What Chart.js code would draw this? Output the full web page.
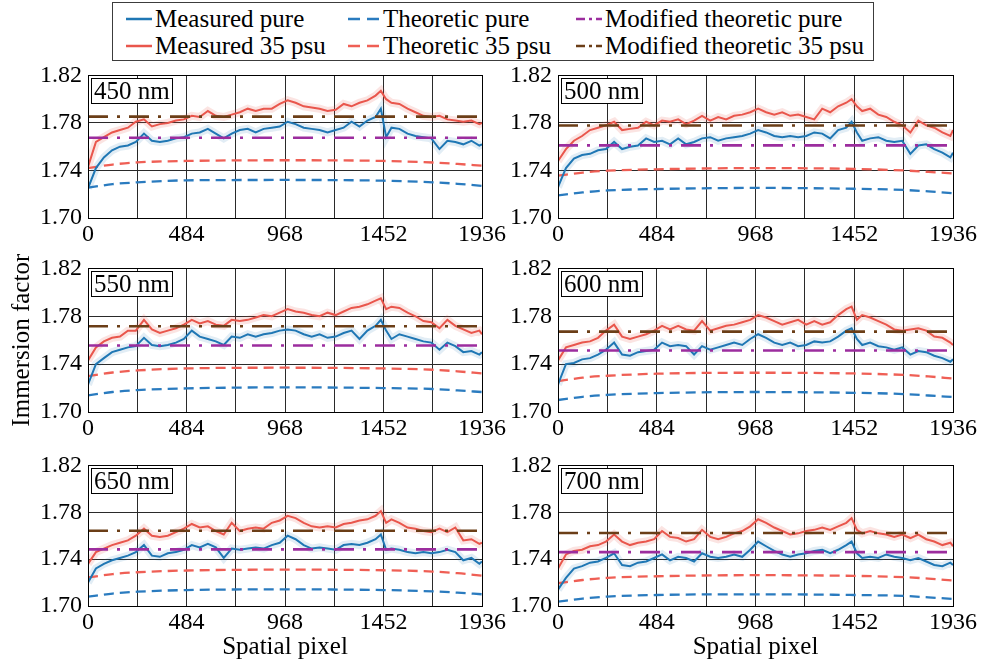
<!DOCTYPE html>
<html>
<head>
<meta charset="utf-8">
<script src="https://cdn.jsdelivr.net/npm/chart.js"></script>
<style>
body { margin:0; width:981px; height:661px; overflow:hidden; background:#fff;
       font-family:'Liberation Serif','Times New Roman',serif; }
canvas { position:absolute; }
#legend { position:absolute; left:112px; top:2px; width:760px; height:57px; border:1px solid #3c3c3c; background:#fff; }
.item { position:absolute; height:28px; display:flex; align-items:center; font-size:25px; white-space:nowrap; }
.item svg { margin-right:3px; }
.tag { position:absolute; font-size:25px; line-height:24px; padding:0 2px; border:1px solid #000; background:#fff; z-index:5; }
</style>
</head>
<body>
<div id="legend"></div>
<script>
// pixel positions where the measured curves were read
const xPix = [0,39,78,118,157,196,235,275,314,353,392,432,471,510,549,589,628,667,706,746,
  785,824,863,903,942,981,1020,1060,1099,1138,1177,1217,1256,1295,1334,1373,1413,1439,1465,1491,
  1530,1570,1609,1648,1687,1727,1766,1805,1844,1884,1923,1936];
// x positions of theoretic curves
const theoX = [0,121,242,484,968,1452,1694,1815,1936];

const wavelengths = ['450 nm','500 nm','550 nm','600 nm','650 nm','700 nm'];

// measured, pure water
const measPure450 = [1.725,1.742,1.751,1.757,1.760,1.761,1.764,1.771,1.765,1.764,1.765,1.767,1.768,1.771,1.772,1.775,1.771,1.767,1.771,1.774,
  1.775,1.772,1.775,1.776,1.777,1.781,1.779,1.776,1.775,1.774,1.772,1.774,1.776,1.781,1.777,1.782,1.785,1.792,1.768,1.776,
  1.775,1.771,1.769,1.768,1.767,1.758,1.765,1.764,1.762,1.765,1.761,1.762];
const measPure500 = [1.726,1.742,1.750,1.753,1.754,1.757,1.758,1.764,1.758,1.760,1.761,1.767,1.764,1.765,1.762,1.767,1.762,1.764,1.767,1.768,
  1.765,1.767,1.768,1.769,1.771,1.774,1.772,1.769,1.768,1.769,1.768,1.769,1.772,1.771,1.767,1.774,1.776,1.781,1.772,1.765,
  1.767,1.768,1.765,1.764,1.765,1.754,1.761,1.762,1.758,1.755,1.751,1.755];
const measPure550 = [1.723,1.740,1.745,1.750,1.752,1.754,1.755,1.762,1.756,1.755,1.756,1.758,1.761,1.768,1.763,1.761,1.759,1.756,1.763,1.762,
  1.765,1.763,1.765,1.766,1.768,1.769,1.768,1.765,1.763,1.765,1.762,1.763,1.766,1.768,1.761,1.768,1.772,1.777,1.768,1.761,
  1.765,1.763,1.761,1.759,1.758,1.752,1.758,1.755,1.750,1.751,1.748,1.750];
const measPure600 = [1.723,1.740,1.741,1.744,1.745,1.748,1.752,1.758,1.748,1.747,1.750,1.751,1.752,1.758,1.755,1.756,1.755,1.748,1.755,1.752,
  1.754,1.756,1.758,1.756,1.761,1.765,1.762,1.758,1.756,1.758,1.755,1.756,1.759,1.758,1.759,1.763,1.768,1.770,1.761,1.756,
  1.758,1.755,1.754,1.752,1.754,1.748,1.751,1.750,1.747,1.745,1.742,1.744];
const measPure650 = [1.720,1.732,1.736,1.739,1.741,1.743,1.746,1.752,1.743,1.742,1.745,1.746,1.748,1.752,1.750,1.753,1.750,1.741,1.749,1.748,
  1.749,1.750,1.749,1.752,1.754,1.760,1.757,1.752,1.749,1.750,1.749,1.748,1.752,1.753,1.752,1.754,1.757,1.761,1.748,1.749,
  1.748,1.746,1.745,1.746,1.745,1.746,1.748,1.746,1.739,1.741,1.736,1.738];
const measPure700 = [1.714,1.724,1.732,1.734,1.737,1.738,1.741,1.745,1.735,1.734,1.737,1.738,1.741,1.744,1.739,1.742,1.741,1.738,1.745,1.742,
  1.741,1.742,1.744,1.742,1.748,1.755,1.751,1.747,1.744,1.742,1.744,1.745,1.747,1.748,1.745,1.748,1.752,1.755,1.745,1.741,
  1.742,1.741,1.744,1.742,1.741,1.739,1.741,1.738,1.735,1.734,1.737,1.735];

// measured, 35 psu
const measSalt450 = [1.743,1.764,1.768,1.772,1.774,1.776,1.781,1.783,1.777,1.779,1.780,1.782,1.783,1.786,1.785,1.790,1.786,1.785,1.787,1.789,
  1.792,1.790,1.792,1.792,1.796,1.799,1.797,1.794,1.793,1.792,1.790,1.791,1.796,1.794,1.797,1.799,1.803,1.807,1.800,1.797,
  1.796,1.792,1.789,1.786,1.785,1.786,1.783,1.782,1.781,1.782,1.779,1.780];
const measSalt500 = [1.748,1.758,1.765,1.769,1.774,1.776,1.778,1.781,1.774,1.775,1.776,1.781,1.778,1.782,1.781,1.783,1.779,1.782,1.786,1.782,
  1.785,1.783,1.786,1.787,1.789,1.792,1.789,1.787,1.789,1.786,1.787,1.785,1.783,1.792,1.789,1.794,1.797,1.800,1.794,1.790,
  1.792,1.787,1.785,1.781,1.778,1.772,1.782,1.778,1.776,1.772,1.769,1.774];
const measSalt550 = [1.743,1.754,1.759,1.762,1.763,1.768,1.768,1.777,1.769,1.766,1.768,1.770,1.773,1.777,1.774,1.776,1.773,1.772,1.777,1.776,
  1.777,1.779,1.781,1.780,1.783,1.786,1.784,1.783,1.781,1.780,1.783,1.781,1.784,1.787,1.788,1.790,1.793,1.795,1.786,1.788,
  1.787,1.783,1.780,1.776,1.775,1.770,1.777,1.772,1.769,1.766,1.768,1.765];
const measSalt600 = [1.743,1.754,1.756,1.758,1.759,1.762,1.768,1.773,1.763,1.761,1.763,1.765,1.768,1.772,1.769,1.772,1.769,1.768,1.776,1.768,
  1.770,1.772,1.773,1.775,1.777,1.781,1.779,1.776,1.773,1.775,1.777,1.773,1.776,1.773,1.775,1.781,1.786,1.788,1.777,1.781,
  1.779,1.776,1.773,1.769,1.768,1.769,1.770,1.768,1.763,1.762,1.758,1.756];
const measSalt650 = [1.736,1.746,1.749,1.752,1.754,1.756,1.760,1.766,1.760,1.759,1.760,1.763,1.766,1.770,1.767,1.768,1.764,1.761,1.771,1.764,
  1.766,1.767,1.766,1.771,1.773,1.777,1.775,1.771,1.768,1.767,1.768,1.767,1.770,1.771,1.773,1.774,1.777,1.781,1.771,1.774,
  1.771,1.767,1.766,1.764,1.763,1.766,1.763,1.767,1.756,1.757,1.753,1.754];
const measSalt700 = [1.732,1.744,1.747,1.748,1.751,1.752,1.755,1.761,1.755,1.752,1.754,1.755,1.757,1.764,1.759,1.758,1.755,1.757,1.765,1.759,
  1.757,1.759,1.762,1.764,1.768,1.774,1.771,1.767,1.764,1.761,1.762,1.764,1.765,1.767,1.765,1.768,1.771,1.775,1.765,1.762,
  1.764,1.762,1.761,1.759,1.761,1.758,1.761,1.757,1.755,1.752,1.754,1.751];

// theoretic curves
const theoPure450 = [1.7255,1.7285,1.7300,1.7317,1.7320,1.7314,1.7300,1.7288,1.7270];
const theoPure500 = [1.7190,1.7215,1.7232,1.7244,1.7253,1.7246,1.7236,1.7224,1.7208];
const theoPure550 = [1.7139,1.7167,1.7183,1.7197,1.7206,1.7200,1.7192,1.7180,1.7167];
const theoPure600 = [1.7100,1.7127,1.7143,1.7158,1.7167,1.7160,1.7150,1.7138,1.7125];
const theoPure650 = [1.7080,1.7106,1.7122,1.7136,1.7142,1.7136,1.7125,1.7114,1.7100];
const theoPure700 = [1.7037,1.7063,1.7080,1.7094,1.7100,1.7094,1.7086,1.7074,1.7060];
const theoSalt450 = [1.7420,1.7450,1.7468,1.7480,1.7486,1.7480,1.7467,1.7455,1.7440];
const theoSalt500 = [1.7356,1.7382,1.7398,1.7410,1.7420,1.7413,1.7400,1.7388,1.7375];
const theoSalt550 = [1.7300,1.7330,1.7347,1.7364,1.7370,1.7364,1.7353,1.7340,1.7322];
const theoSalt600 = [1.7258,1.7287,1.7303,1.7320,1.7328,1.7322,1.7310,1.7297,1.7280];
const theoSalt650 = [1.7244,1.7272,1.7288,1.7303,1.7310,1.7305,1.7294,1.7280,1.7258];
const theoSalt700 = [1.7194,1.7222,1.7240,1.7254,1.7263,1.7257,1.7246,1.7234,1.7217];

// modified theoretic (constant across the detector)
const modPure = [1.7675,1.7611,1.7556,1.7514,1.7483,1.7460];
const modSalt = [1.7853,1.7778,1.7717,1.7672,1.7642,1.7623];

const yTicks = [1.70,1.74,1.78,1.82];
const xLabels = [0,484,968,1452,1936];

const measPure = [measPure450,measPure500,measPure550,measPure600,measPure650,measPure700];
const measSalt = [measSalt450,measSalt500,measSalt550,measSalt600,measSalt650,measSalt700];
const theoPure = [theoPure450,theoPure500,theoPure550,theoPure600,theoPure650,theoPure700];
const theoSalt = [theoSalt450,theoSalt500,theoSalt550,theoSalt600,theoSalt650,theoSalt700];

const col = {
  pure:'#1f77b4', salt:'#e9564c',
  tPure:'#2a7bbf', tSalt:'#ef5f55',
  mPure:'#9c2d9e', mSalt:'#6b3e17'
};

const serif = "'Liberation Serif','Times New Roman',serif";
Chart.defaults.font.family = serif;
Chart.defaults.font.size = 24;
Chart.defaults.color = '#000';

// legend
const legendItems = [
  ['Measured pure', col.pure, 'solid', 13, 2],
  ['Theoretic pure', col.tPure, 'dash', 235, 2],
  ['Modified theoretic pure', col.mPure, 'dashdot', 463, 2],
  ['Measured 35 psu', col.salt, 'solid', 13, 29],
  ['Theoretic 35 psu', col.tSalt, 'dash', 235, 29],
  ['Modified theoretic 35 psu', col.mSalt, 'dashdot', 463, 29]
];
const legend = document.getElementById('legend');
legendItems.forEach(([name, c, style, left, top]) => {
  const w = style === 'dash' ? 32 : 26;
  const dash = style === 'dash' ? '12 7' : style === 'dashdot' ? '9 4 3 4 9' : '';
  const d = document.createElement('div');
  d.className = 'item';
  d.style.left = left + 'px';
  d.style.top = top + 'px';
  d.innerHTML = `<svg width="${w}" height="10"><line x1="0" y1="5" x2="${w}" y2="5" stroke="${c}" stroke-width="2.5" stroke-dasharray="${dash}"/></svg>${name}`;
  legend.appendChild(d);
});

const boxPlugin = {
  id: 'box',
  afterDraw(chart) {
    const a = chart.chartArea, ctx = chart.ctx;
    ctx.save();
    ctx.strokeStyle = '#000';
    ctx.lineWidth = 1;
    ctx.strokeRect(Math.round(a.left) + 0.5, Math.round(a.top) + 0.5,
                   Math.round(a.right - a.left), Math.round(a.bottom - a.top));
    ctx.restore();
  }
};

const colLeft = [0, 470];
const colWidth = [520, 521];
const rowTop = [55, 248, 445];
const rowHeight = [203, 204, 217];
const xAxisH = [40, 40, 56];

const pts = (xs, ys) => xs.map((x, i) => ({x: x, y: ys[i]}));
const flat = v => [{x: 0, y: v}, {x: 1936, y: v}];

wavelengths.forEach((wl, i) => {
  const c = i % 2, r = Math.floor(i / 2);
  const cv = document.createElement('canvas');
  cv.width = colWidth[c];
  cv.height = rowHeight[r];
  cv.style.left = colLeft[c] + 'px';
  cv.style.top = rowTop[r] + 'px';
  document.body.appendChild(cv);

  const tag = document.createElement('div');
  tag.className = 'tag';
  tag.textContent = wl;
  tag.style.left = (colLeft[c] + 88 + 3) + 'px';
  tag.style.top = (rowTop[r] + 20 + 3) + 'px';
  document.body.appendChild(tag);

  const line = (data, color, width, dash, order, extra) => Object.assign({
    data: data, borderColor: color, borderWidth: width, borderDash: dash || [],
    pointRadius: 0, fill: false, tension: 0, order: order
  }, extra || {});

  new Chart(cv, {
    type: 'line',
    data: {
      datasets: [
        line(flat(modSalt[i]), col.mSalt, 2.6, [20, 9, 3, 9], 0),
        line(flat(modPure[i]), col.mPure, 2.6, [20, 9, 3, 9], 0),
        line(pts(xPix, measSalt[i]), col.salt, 2, null, 1),
        line(pts(xPix, measPure[i]), col.pure, 2, null, 1),
        line(pts(theoX, theoSalt[i]), col.tSalt, 2.3, [10, 6], 2, {cubicInterpolationMode: 'monotone'}),
        line(pts(theoX, theoPure[i]), col.tPure, 2.3, [10, 6], 2, {cubicInterpolationMode: 'monotone'}),
        line(pts(xPix, measSalt[i]), 'rgba(233,86,76,0.16)', 8, null, 3),
        line(pts(xPix, measPure[i]), 'rgba(31,119,180,0.13)', 8, null, 3)
      ]
    },
    options: {
      responsive: false,
      animation: false,
      devicePixelRatio: 1,
      layout: {padding: {top: 20, left: 0, right: colWidth[c] - (c === 0 ? 482 : 953 - 470), bottom: 0}},
      plugins: {legend: {display: false}, tooltip: {enabled: false}},
      scales: {
        x: {
          type: 'linear', min: 0, max: 1936,
          ticks: {stepSize: 242, autoSkip: false, maxRotation: 0, padding: 2,
                  font: {family: serif, size: 24},
                  callback: v => xLabels.includes(v) ? String(v) : ''},
          grid: {color: '#2a2a2a', lineWidth: 1, drawTicks: false},
          border: {display: true, color: '#000'},
          title: {display: r === 2, text: 'Spatial pixel', font: {family: serif, size: 25}, padding: {top: 0, bottom: 0}},
          afterFit: s => { s.height = xAxisH[r]; }
        },
        y: {
          min: yTicks[0], max: yTicks[yTicks.length - 1],
          ticks: {stepSize: 0.04, padding: 6, font: {family: serif, size: 24},
                  callback: v => Number(v).toFixed(2)},
          grid: {color: '#2a2a2a', lineWidth: 1, drawTicks: false},
          border: {display: true, color: '#000'},
          title: {display: r === 1 && c === 0, text: 'Immersion factor', font: {family: serif, size: 25}, padding: {top: 7, bottom: 0}},
          afterFit: s => { s.width = 88; }
        }
      }
    },
    plugins: [boxPlugin]
  });
});
</script>
</body>
</html>
